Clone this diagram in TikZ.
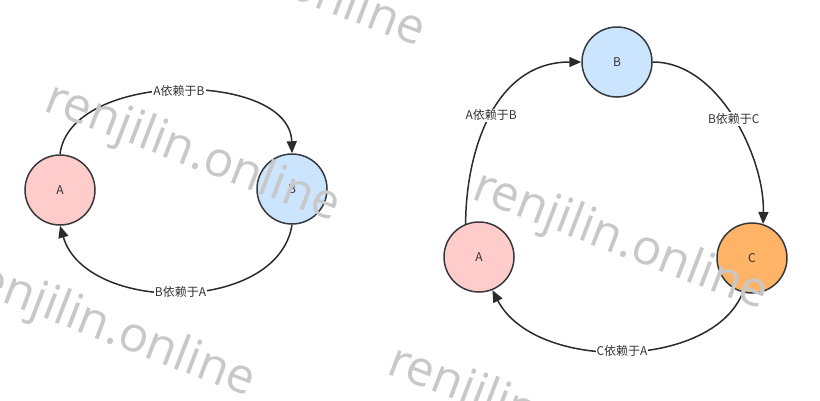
\documentclass[tikz,border=0pt]{standalone}
\usepackage{fontspec}
\setmainfont{Noto Sans CJK SC}
\newfontfamily\wmfont{Open Sans}
\usetikzlibrary{arrows.meta}
\definecolor{edgec}{HTML}{2B2B2B}
\definecolor{txtc}{HTML}{333333}
\definecolor{pinkf}{HTML}{FFCCCC}
\definecolor{bluef}{HTML}{CCE5FF}
\definecolor{orangef}{HTML}{FFB366}
\definecolor{circb}{HTML}{36393D}
\definecolor{wmc}{HTML}{C8C8C8}
\tikzset{
  circnode/.style={circle, draw=circb, line width=1.5pt, minimum size=70pt, inner sep=0pt,
    font=\fontsize{12}{12}\selectfont, text=txtc},
  conn/.style={draw=edgec, line width=1.5pt, -{Triangle[length=12pt,width=10pt]}},
  elabel/.style={fill=white, inner sep=1pt, font=\fontsize{12}{12}\selectfont, text=txtc},
  wmark/.style={text=wmc, font=\wmfont\fontsize{49}{49}\selectfont, rotate=-21, inner sep=0pt}
}
\begin{document}
\begin{tikzpicture}[x=1pt,y=-1pt]
\useasboundingbox[fill=white] (0,0) rectangle (820,400);
% left cycle
\node[circnode, fill=pinkf] (lA) at (60,190) {A};
\node[circnode, fill=bluef] (lB) at (292,189) {B};
\draw[conn] (lA.north) .. controls (70,70) and (290,70) .. node[elabel] (l1) {A依赖于B} (lB.north);
\draw[conn] (lB.south) .. controls (278,314) and (86,314) .. node[elabel] (l2) {B依赖于A} (lA.south);
% right cycle
\node[circnode, fill=bluef] (rB) at (617,62) {B};
\node[circnode, fill=pinkf] (rA) at (479,257) {A};
\node[circnode, fill=orangef] (rC) at (752,258) {C};
\draw[conn] (rA.112) .. controls (466,150) and (495,62) .. node[elabel] (r1) {A依赖于B} (rB.west);
\draw[conn] (rB.east) .. controls (720,62) and (765,160) .. node[elabel] (r2) {B依赖于C} (rC.72);
\draw[conn] (rC.-105) .. controls (712,370) and (535,372) .. node[elabel] (r3) {C依赖于A} (rA.-68);
% watermarks
\node[wmark] (wm1) at (192,154) {renjilin.online};
\node[wmark] (wm2) at (107,329) {renjilin.online};
\node[wmark] (wm3) at (620,242) {renjilin.online};
\node[wmark] (wm4) at (277,-21) {renjilin.online};
\node[wmark] (wm5) at (535,417) {renjilin.online};
\end{tikzpicture}
\end{document}
